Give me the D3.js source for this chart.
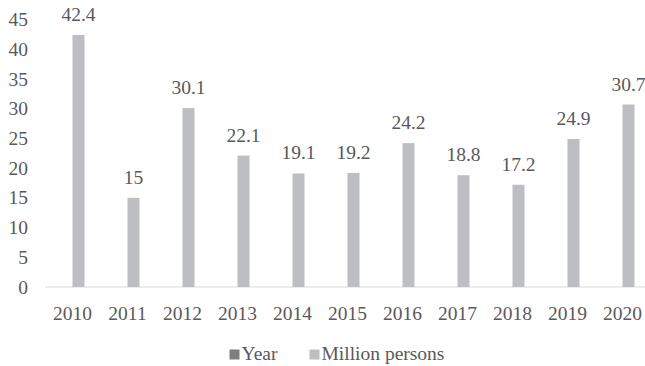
<!DOCTYPE html>
<html>
<head>
<meta charset="utf-8">
<script src="https://cdn.jsdelivr.net/npm/d3@7"></script>
<style>
  body { margin: 0; background: #fff; }
</style>
</head>
<body>
<svg id="chart" width="645" height="366"></svg>
<script>
const years = ["2010", "2011", "2012", "2013", "2014", "2015", "2016", "2017", "2018", "2019", "2020"];
const yearValues = [0, 0, 0, 0, 0, 0, 0, 0, 0, 0, 0];
const millionPersons = [42.4, 15, 30.1, 22.1, 19.1, 19.2, 24.2, 18.8, 17.2, 24.9, 30.7];
const yTicks = [0, 5, 10, 15, 20, 25, 30, 35, 40, 45];
const seriesNames = ["Year", "Million persons"];
const seriesColors = ["#7f7f7f", "#bdbec2"];

const fontFam = "'Liberation Serif', 'Times New Roman', serif";
const fontSize = "19.5px";
const textColor = "#595959";

const svg = d3.select("#chart")
  .attr("font-family", fontFam)
  .attr("font-size", fontSize);

const plotLeft = 45, plotRight = 650, plotTop = 19.5, plotBottom = 287;

const x = d3.scaleBand(years, [plotLeft, plotRight]);
const y = d3.scaleLinear([0, 45], [plotBottom, plotTop]);
const barW = 12;

// y labels, no axis line
svg.append("g")
  .selectAll("text")
  .data(yTicks)
  .join("text")
  .attr("x", 28)
  .attr("y", d => y(d))
  .attr("dy", "0.34em")
  .attr("text-anchor", "end")
  .attr("fill", textColor)
  .text(d => d);

// baseline
svg.append("line")
  .attr("x1", plotLeft)
  .attr("x2", plotRight)
  .attr("y1", y(0))
  .attr("y2", y(0))
  .attr("stroke", "#d9d9d9")
  .attr("stroke-width", 1);

// year series (zero height)
svg.append("g")
  .selectAll("rect")
  .data(years)
  .join("rect")
  .attr("x", (d) => x(d) + x.bandwidth() / 2 - barW)
  .attr("y", (d, i) => y(yearValues[i]))
  .attr("width", barW)
  .attr("height", (d, i) => y(0) - y(yearValues[i]))
  .attr("fill", seriesColors[0]);

svg.append("g")
  .selectAll("rect")
  .data(years)
  .join("rect")
  .attr("x", d => x(d) + x.bandwidth() / 2)
  .attr("y", (d, i) => y(millionPersons[i]))
  .attr("width", barW)
  .attr("height", (d, i) => y(0) - y(millionPersons[i]))
  .attr("fill", seriesColors[1]);

svg.append("g")
  .selectAll("text")
  .data(years)
  .join("text")
  .attr("x", d => x(d) + x.bandwidth() / 2 + barW / 2)
  .attr("y", (d, i) => y(millionPersons[i]) - 14)
  .attr("text-anchor", "middle")
  .attr("fill", textColor)
  .text((d, i) => millionPersons[i]);

// x labels
svg.append("g")
  .selectAll("text")
  .data(years)
  .join("text")
  .attr("x", d => x(d) + x.bandwidth() / 2)
  .attr("y", 320)
  .attr("text-anchor", "middle")
  .attr("fill", textColor)
  .text(d => d);

// legend
const legendX = [229.5, 309.5];
const legend = svg.append("g");
seriesNames.forEach((name, i) => {
  legend.append("rect")
    .attr("x", legendX[i])
    .attr("y", 349.5)
    .attr("width", 10)
    .attr("height", 10)
    .attr("fill", seriesColors[i]);
  legend.append("text")
    .attr("x", legendX[i] + 12)
    .attr("y", 360)
    .attr("fill", textColor)
    .text(name);
});
</script>
</body>
</html>
